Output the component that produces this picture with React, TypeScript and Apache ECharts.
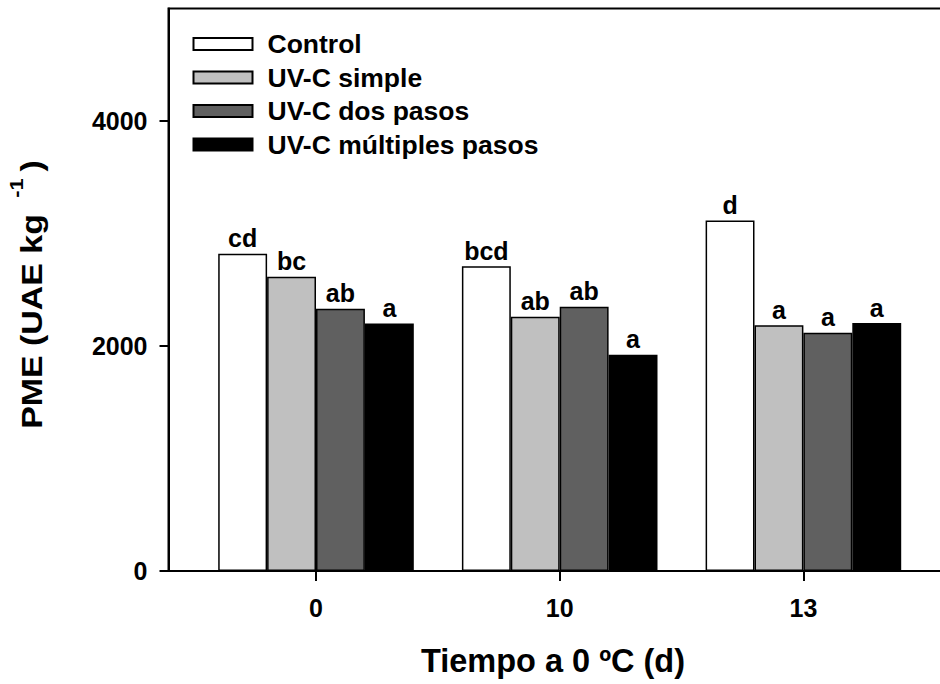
import React, { useEffect, useRef } from 'react';
import * as echarts from 'echarts';

const categories = ['0', '10', '13'];
const seriesNames = ['Control', 'UV-C simple', 'UV-C dos pasos', 'UV-C múltiples pasos'];
const controlValues = [2820, 2710, 3115];
const simpleValues = [2615, 2260, 2185];
const dosValues = [2332, 2350, 2118];
const multiValues = [2200, 1922, 2204];
const controlLetters = ['cd', 'bcd', 'd'];
const simpleLetters = ['bc', 'ab', 'a'];
const dosLetters = ['ab', 'ab', 'a'];
const multiLetters = ['a', 'a', 'a'];
const yTickValues = [0, 2000, 4000];
const xTickValues = [0, 1, 2];
const xTitle = 'Tiempo a 0 ºC (d)';
const yTitleMain = 'PME (UAE kg ';
const yTitleSup = '-1';
const yTitleEnd = ')';

const FONT = '"Liberation Sans", Arial, sans-serif';
const colors = ['#ffffff', '#c0c0c0', '#606060', '#000000'];

export default function App() {
  const ref = useRef<HTMLDivElement>(null);
  useEffect(() => {
    if (!ref.current) return;
    const chart = echarts.init(ref.current, null, { renderer: 'svg' });
    const allValues = [controlValues, simpleValues, dosValues, multiValues];
    const allLetters = [controlLetters, simpleLetters, dosLetters, multiLetters];
    const pxPerUnit = 243.7;
    const left = 168.5;
    const firstCenter = 316;
    const axisRight = 990;
    const xmin = -(firstCenter - left) / pxPerUnit;
    const xmax = xmin + (axisRight - left) / pxPerUnit;
    chart.setOption({
      animation: false,
      backgroundColor: '#ffffff',
      textStyle: { fontFamily: FONT },
      grid: {
        left: left,
        top: 8.5,
        right: 1000 - axisRight,
        bottom: 113,
        show: true,
        borderColor: '#000',
        borderWidth: 2,
        backgroundColor: 'transparent',
      },
      legend: {
        orient: 'vertical',
        left: 192.5,
        top: 30.5,
        padding: 0,
        itemWidth: 59,
        itemHeight: 12,
        itemGap: 6.5,
        icon: 'rect',
        data: seriesNames,
        textStyle: { fontFamily: FONT, fontSize: 26.5, fontWeight: 'bold', color: '#000', lineHeight: 25, padding: [0, 0, 0, 10] },
      },
      xAxis: {
        type: 'value',
        min: xmin,
        max: xmax,
        splitLine: { show: false },
        axisLine: { show: true, onZero: false, lineStyle: { color: '#000', width: 2 } },
        axisTick: { show: true, length: 10, inside: false, customValues: xTickValues, lineStyle: { color: '#000', width: 2 } },
        axisLabel: {
          customValues: xTickValues,
          formatter: (v: number) => categories[Math.round(v)] ?? '',
          fontSize: 25,
          fontWeight: 'bold',
          color: '#000',
          fontFamily: FONT,
          margin: 24,
        },
      },
      yAxis: {
        type: 'value',
        min: 0,
        max: 5000,
        interval: 1000,
        splitLine: { show: false },
        axisLine: { show: true, onZero: false, lineStyle: { color: '#000', width: 2 } },
        axisTick: { show: true, length: 9, customValues: yTickValues, lineStyle: { color: '#000', width: 2 } },
        axisLabel: {
          customValues: yTickValues,
          formatter: (v: number) => String(v),
          fontSize: 25,
          fontWeight: 'bold',
          color: '#000',
          fontFamily: FONT,
          margin: 21,
        },
      },
      graphic: [
        {
          type: 'text',
          x: 553,
          y: 661,
          style: {
            text: xTitle,
            fontSize: 32.5,
            fontWeight: 'bold',
            fontFamily: FONT,
            fill: '#000',
            textAlign: 'center',
            textVerticalAlign: 'middle',
          },
        },
        {
          type: 'text',
          x: 31.7,
          y: 294.5,
          rotation: Math.PI / 2,
          scaleX: 1.15,
          style: {
            text: `{a|${yTitleMain}}{s|${yTitleSup}}{c|${yTitleEnd}}`,
            fontFamily: FONT,
            textAlign: 'center',
            textVerticalAlign: 'middle',
            rich: {
              a: { fontSize: 29.5, fontWeight: 'bold', fill: '#000', fontFamily: FONT, lineHeight: 50 },
              s: { fontSize: 19, fontWeight: 'bold', fill: '#000', fontFamily: FONT, lineHeight: 14, verticalAlign: 'top', padding: [0, 0, 0, 6] },
              c: { fontSize: 29.5, fontWeight: 'bold', fill: '#000', fontFamily: FONT, lineHeight: 50, padding: [0, 0, 0, 6] },
            },
          },
        },
      ],
      series: seriesNames.map((name, si) => ({
        name,
        type: 'bar',
        barWidth: 48.9,
        barGap: '0%',
        data: allValues[si].map((v, i) => [xTickValues[i], v]),
        itemStyle: { color: colors[si], borderColor: '#000', borderWidth: 1.5 },
        label: {
          show: true,
          position: 'top',
          distance: 3,
          formatter: (p: any) => allLetters[si][p.dataIndex],
          fontSize: 25,
          fontWeight: 'bold',
          color: '#000',
          fontFamily: FONT,
        },
      })),
    });
    return () => chart.dispose();
  }, []);
  return (
    <div style={{ position: 'fixed', left: 0, top: 0, width: 940, height: 684, overflow: 'hidden', background: '#fff' }}>
      <div ref={ref} style={{ width: 1000, height: 684 }} />
    </div>
  );
}
